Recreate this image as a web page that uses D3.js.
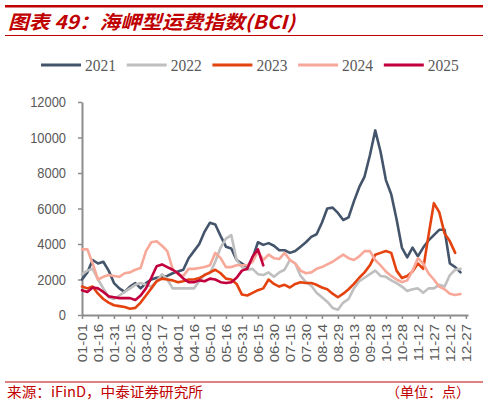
<!DOCTYPE html>
<html>
<head>
<meta charset="utf-8">
<script src="https://cdn.jsdelivr.net/npm/d3@7"></script>
<style>
body { margin: 0; background: #fff; }
svg { display: block; }
</style>
</head>
<body>
<div id="chart"></div>
<script>
// x axis labels, one every 15 days
var xLabels = ["01-01","01-16","01-31","02-15","03-02","03-17","04-01","04-16","05-01",
    "05-16","05-31","06-15","06-30","07-15","07-30","08-14","08-29","09-13","09-28",
    "10-13","10-28","11-12","11-27","12-12","12-27"];
var yTicks = [0, 2000, 4000, 6000, 8000, 10000, 12000];
var years = ["2021", "2022", "2023", "2024", "2025"];
var colors = ["#44546A", "#BFBFBF", "#E4420E", "#F7A899", "#C2003D"];

// BCI values, one point every 5 days from 01-01
var STEP = 5;
var bci2021 = [2000,2400,3100,2900,3000,2500,1800,1500,1300,1600,
    1800,1500,1800,2000,2100,2150,2200,2350,2450,2550,
    3200,3600,4000,4700,5200,5100,4450,3850,3750,3100,
    2900,2700,3200,4100,3950,4050,3900,3650,3650,3500,
    3600,3850,4100,4400,4550,5200,6000,6050,5750,5350,
    5500,6400,7200,7800,9000,10400,9200,7600,6800,5400,
    3800,3250,3800,3300,3800,4200,4500,4800,4800,2900,
    2700,2400];
var bci2022 = [2300,2500,2600,2000,1500,1000,900,1100,1300,1500,
    1700,1800,1700,1600,1900,2300,2000,1500,1500,1500,
    1500,1500,1900,2300,2350,3000,3800,4300,4500,3100,
    2700,2550,2600,2300,2250,2400,2150,2400,2550,3100,
    2900,2200,1850,1650,1250,1000,750,400,300,700,
    900,1500,1900,2100,2300,2500,2200,2150,1950,1800,
    1600,1350,1450,1500,1250,1500,1500,1700,1600,2250,
    2550,2600];
var bci2023 = [1600,1500,1600,1200,900,700,550,500,450,350,
    400,700,1100,1500,1900,2050,2000,1950,1850,1900,
    2000,2000,2080,2250,2400,2550,2350,2050,2000,1750,
    1150,1100,1250,1400,1500,2000,1750,1600,1700,1550,
    1750,1850,1800,1800,1700,1550,1450,1200,1000,1200,
    1450,1750,2100,2400,2800,3400,3500,3600,3500,2500,
    2080,2200,2450,2900,2600,4500,6300,5800,4600,4150,
    3500];
var bci2024 = [3700,3700,2900,2000,2150,2250,2200,2150,2350,2400,
    2550,2650,3600,4100,4150,3900,3600,2600,2300,2200,
    2600,2600,2650,2700,2800,3500,3200,2700,2700,2800,
    2800,2800,3000,3600,3100,3400,3200,3150,3500,3100,
    2900,2500,2350,2400,2600,2700,2850,3000,3200,3400,
    3200,3100,3300,3600,3600,3100,2800,2450,2200,2000,
    1850,1950,2500,3200,2900,2350,2000,1600,1450,1200,
    1130,1180];
var bci2025 = [1400,1300,1550,1500,1300,1050,1000,950,950,950,
    850,1100,1500,2100,2750,2850,2700,2550,2350,2050,
    1850,1850,1950,1900,2050,2000,1850,1800,1850,2100,
    2500,2600,3300,3700,2800];
var seriesData = [bci2021, bci2022, bci2023, bci2024, bci2025];

var W = 488, H = 405;
var plotLeft = 82, plotRight = 468, plotTop = 102, plotBottom = 315;
var red = "#C00000", grey = "#595959", axisGrey = "#8C8C8C";

var svg = d3.select("#chart").append("svg")
    .attr("width", W)
    .attr("height", H)
    .style("font-family", "'Liberation Sans', Arial, sans-serif");

// header and footer rules
svg.append("rect").attr("x", 5).attr("y", 5).attr("width", 478).attr("height", 2.5).attr("fill", red);
svg.append("line").attr("x1", 5).attr("x2", 483).attr("y1", 35.5).attr("y2", 35.5)
    .attr("stroke", red).attr("stroke-width", 1);
svg.append("line").attr("x1", 5).attr("x2", 483).attr("y1", 382).attr("y2", 382)
    .attr("stroke", red).attr("stroke-width", 1);

svg.append("text")
    .attr("x", 8).attr("y", 29)
    .attr("fill", red)
    .attr("font-size", 19)
    .attr("font-weight", "bold")
    .attr("font-style", "italic")
    .attr("font-family", "'Noto Sans CJK SC', sans-serif")
    .attr("textLength", 287).attr("lengthAdjust", "spacingAndGlyphs")
    .text("图表 49：海岬型运费指数(BCI)");

svg.append("text")
    .attr("x", 7).attr("y", 397)
    .attr("fill", red)
    .attr("font-size", 14)
    .attr("font-family", "'Noto Sans CJK SC', sans-serif")
    .attr("textLength", 196).attr("lengthAdjust", "spacingAndGlyphs")
    .text("来源：iFinD，中泰证券研究所");

svg.append("text")
    .attr("x", 470).attr("y", 397)
    .attr("text-anchor", "end")
    .attr("fill", red)
    .attr("font-size", 14)
    .attr("font-family", "'Noto Sans CJK SC', sans-serif")
    .text("（单位：点）");

// scales
var x = d3.scaleLinear().domain([0, 362]).range([plotLeft, plotRight]);
var y = d3.scaleLinear().domain([0, 12000]).range([plotBottom, plotTop]);

// y axis
var yAxis = svg.append("g")
    .attr("transform", "translate(" + plotLeft + ",0)")
    .call(d3.axisLeft(y).tickValues(yTicks).tickSize(4).tickSizeOuter(0).tickFormat(d3.format("d")));
yAxis.select(".domain").attr("stroke", axisGrey).attr("stroke-width", 2);
yAxis.selectAll(".tick line").attr("stroke", axisGrey).attr("stroke-width", 1.5);
yAxis.selectAll(".tick text")
    .attr("x", 0)
    .attr("transform", "translate(-16,0) scale(0.86,1)")
    .attr("fill", grey)
    .attr("font-size", 15)
    .attr("font-family", "'Liberation Sans', Arial, sans-serif");

// x axis
var xAxis = svg.append("g")
    .attr("transform", "translate(0," + plotBottom + ")")
    .call(d3.axisBottom(x)
        .tickValues(xLabels.map(function(d, i) { return i * 15; }))
        .tickSize(4).tickSizeOuter(0)
        .tickFormat(function(d, i) { return xLabels[i]; }));
xAxis.select(".domain").attr("stroke", axisGrey).attr("stroke-width", 2);
xAxis.selectAll(".tick line").attr("stroke", axisGrey).attr("stroke-width", 1.5);
xAxis.selectAll(".tick text")
    .attr("x", 0).attr("y", 0).attr("dy", "0.35em")
    .attr("text-anchor", "end")
    .attr("transform", "translate(0,9) scale(0.86,1) rotate(-90)")
    .attr("fill", grey)
    .attr("font-size", 15)
    .attr("font-family", "'Liberation Sans', Arial, sans-serif");

// lines
var line = d3.line()
    .x(function(d, i) { return x(i * STEP); })
    .y(function(d) { return y(d); });

svg.selectAll(".series")
    .data(seriesData)
    .enter().append("path")
    .attr("class", "series")
    .attr("d", line)
    .attr("fill", "none")
    .attr("stroke", function(d, i) { return colors[i]; })
    .attr("stroke-width", 2.6)
    .attr("stroke-linejoin", "round")
    .attr("stroke-linecap", "round");

// legend
var legend = svg.selectAll(".legend")
    .data(years)
    .enter().append("g")
    .attr("class", "legend")
    .attr("transform", function(d, i) { return "translate(" + (41 + i * 85.7) + ",65)"; });
legend.append("line")
    .attr("x1", 0).attr("x2", 40)
    .attr("stroke", function(d, i) { return colors[i]; })
    .attr("stroke-width", 3);
legend.append("text")
    .attr("x", 44).attr("dy", "0.35em")
    .attr("fill", grey)
    .attr("font-size", 16)
    .attr("font-family", "'Liberation Serif', 'Times New Roman', serif")
    .attr("textLength", 31).attr("lengthAdjust", "spacingAndGlyphs")
    .text(function(d) { return d; });
</script>
</body>
</html>
